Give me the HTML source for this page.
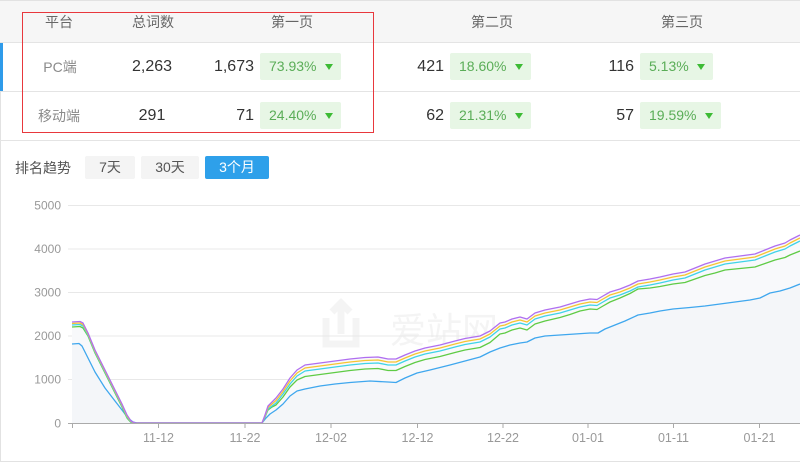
<!DOCTYPE html>
<html>
<head>
<meta charset="utf-8">
<style>
  html,body{margin:0;padding:0;background:#fff;}
  body{width:800px;height:462px;overflow:hidden;position:relative;font-family:"Liberation Sans","Noto Sans CJK SC",sans-serif;}
  .abs{position:absolute;}
  .hdr{position:absolute;left:0;top:0;width:800px;height:42px;background:#f6f6f6;border-top:1px solid #e2e2e2;box-sizing:border-box;}
  .line{position:absolute;left:0;width:800px;height:1px;background:#e4e4e4;}
  .ht{position:absolute;top:12px;font-size:14px;color:#666;line-height:20px;text-align:center;width:80px;}
  .lab{position:absolute;font-size:14px;color:#8a8a8a;line-height:20px;text-align:center;width:80px;}
  .num{position:absolute;font-size:16px;color:#333;line-height:20px;text-align:right;width:60px;}
  .numc{position:absolute;font-size:16px;color:#333;line-height:20px;text-align:center;width:60px;}
  .badge{position:absolute;height:27px;background:#e7f6e5;border-radius:2px;font-size:14px;color:#5aad57;line-height:27px;padding-left:9px;box-sizing:border-box;}
  .tri{position:absolute;top:11px;width:0;height:0;border-left:4px solid transparent;border-right:4px solid transparent;border-top:6px solid #3dbb35;}
  .btn{position:absolute;top:156px;height:23px;line-height:23px;font-size:14px;text-align:center;background:#f4f4f4;color:#555;border-radius:2px;}
</style>
</head>
<body>
<div class="abs" style="left:0;top:0;width:1px;height:462px;background:#e2e2e2;"></div>
<div class="abs" style="left:0;top:461px;width:800px;height:1px;background:#e2e2e2;"></div>

<div class="hdr"></div>
<div class="line" style="top:42px;"></div>
<div class="line" style="top:91px;"></div>
<div class="line" style="top:140px;"></div>
<div class="abs" style="left:0;top:43px;width:3px;height:48px;background:#2f9bea;"></div>

<div class="ht" style="left:19px;">平台</div>
<div class="ht" style="left:113px;">总词数</div>
<div class="ht" style="left:252px;">第一页</div>
<div class="ht" style="left:452px;">第二页</div>
<div class="ht" style="left:642px;">第三页</div>

<div class="lab" style="left:20px;top:57px;">PC端</div>
<div class="numc" style="left:122px;top:57px;">2,263</div>
<div class="num" style="left:194px;top:57px;">1,673</div>
<div class="badge" style="left:260px;top:53px;width:81px;">73.93%<span class="tri" style="left:65px;"></span></div>
<div class="num" style="left:384px;top:57px;">421</div>
<div class="badge" style="left:450px;top:53px;width:81px;">18.60%<span class="tri" style="left:65px;"></span></div>
<div class="num" style="left:574px;top:57px;">116</div>
<div class="badge" style="left:640px;top:53px;width:73px;">5.13%<span class="tri" style="left:57px;"></span></div>

<div class="lab" style="left:19px;top:106px;">移动端</div>
<div class="numc" style="left:122px;top:106px;">291</div>
<div class="num" style="left:194px;top:106px;">71</div>
<div class="badge" style="left:260px;top:102px;width:81px;">24.40%<span class="tri" style="left:65px;"></span></div>
<div class="num" style="left:384px;top:106px;">62</div>
<div class="badge" style="left:450px;top:102px;width:81px;">21.31%<span class="tri" style="left:65px;"></span></div>
<div class="num" style="left:574px;top:106px;">57</div>
<div class="badge" style="left:640px;top:102px;width:81px;">19.59%<span class="tri" style="left:65px;"></span></div>

<div class="abs" style="left:22px;top:12px;width:352px;height:121px;border:1px solid #e8383d;box-sizing:border-box;"></div>

<div class="abs" style="left:15px;top:158px;font-size:14px;color:#555;line-height:20px;">排名趋势</div>
<div class="btn" style="left:85px;width:50px;">7天</div>
<div class="btn" style="left:141px;width:58px;">30天</div>
<div class="btn" style="left:205px;width:64px;background:#2ea0ea;color:#fff;">3个月</div>

<svg class="abs" style="left:0;top:0;" width="800" height="462" viewBox="0 0 800 462">
  <g>
    <path d="M326 318 L326 344 L356 344 L356 318 M341 303 L341 334 M332 312 L341 303 L350 312" fill="none" stroke="#f4f4f4" stroke-width="7"/>
    <text x="390" y="343" font-size="36" fill="#f4f4f4" font-family="Liberation Sans, Noto Sans CJK SC, sans-serif">爱站网</text>
  </g>
  <g stroke="#e8e8e8" stroke-width="1">
    <line x1="68" y1="205.5" x2="800" y2="205.5"/>
    <line x1="68" y1="249" x2="800" y2="249"/>
    <line x1="68" y1="292.5" x2="800" y2="292.5"/>
    <line x1="68" y1="336" x2="800" y2="336"/>
    <line x1="68" y1="379.5" x2="800" y2="379.5"/>
  </g>
  <g font-size="12" fill="#999" text-anchor="end" font-family="Liberation Sans, sans-serif">
    <text x="61" y="209.5">5000</text>
    <text x="61" y="253">4000</text>
    <text x="61" y="296.5">3000</text>
    <text x="61" y="340">2000</text>
    <text x="61" y="383.5">1000</text>
    <text x="61" y="427.5">0</text>
  </g>
  <polygon fill="#f8f9fb" points="72,423 72,322 80,321.5 83,323 88,333 95,350 105,370 115,390 122,404 127,415 131,421 135,423 262,423 265,415 268,406 272,402 276,398 283,389 290,378 297,370 305,365 320,363 335,361 350,359 365,357.5 378,357 388,359 396,359 405,355 415,351 425,348 440,345 455,341 465,338.5 480,336 490,331 500,323 505,322 512,319 520,317 527,319 535,313 545,310 560,307 570,304 580,301 590,299 597,299.5 603,296 610,292 620,289 630,285 638,281 650,279 660,277 673,274 685,272 695,268 705,264 715,261 725,258 740,256 755,254 765,250 775,246 785,243 790,240 800,235 800,423"/>
  <polygon fill="#f4f6f9" points="72,423 72,344 79,343.5 82,346 88,358 95,372 105,388 115,401 122,410 128,418 133,422 137,423 262,423 266,418 270,414 276,410 283,404 290,396 297,391 305,389 320,386 335,384 350,382.5 370,381 388,382 396,382.5 405,378 417,373 430,370 450,365 465,361 480,357 490,352 500,348 510,345 520,343 527,342 535,338 545,336 560,335 575,334 590,333 598,333 605,329 615,325 625,321 638,315 650,313 660,311 673,309 690,307.5 705,306 720,304 735,302 750,300 760,298 770,293 780,291 790,288 800,284 800,423"/>
  <g fill="none" stroke-width="1.3" stroke-linejoin="round">
    <polyline stroke="#3fa7ee" points="72,344 79,343.5 82,346 88,358 95,372 105,388 115,401 122,410 128,418 133,422 137,423 262,423 266,418 270,414 276,410 283,404 290,396 297,391 305,389 320,386 335,384 350,382.5 370,381 388,382 396,382.5 405,378 417,373 430,370 450,365 465,361 480,357 490,352 500,348 510,345 520,343 527,342 535,338 545,336 560,335 575,334 590,333 598,333 605,329 615,325 625,321 638,315 650,313 660,311 673,309 690,307.5 705,306 720,304 735,302 750,300 760,298 770,293 780,291 790,288 800,284"/>
    <polyline stroke="#5fcb45" points="72,327 80,326.5 83,328 88,336 95,353 105,373 115,393 122,407 127,418 131,422.5 135,423 262,423 265,417 268,410 272,407 276,405 283,397 290,387 297,380 305,376.5 320,374.5 335,372.5 350,370.5 365,369 378,368.5 388,370.5 396,370.5 405,366.5 415,362.5 425,359.5 440,356.5 455,352.5 465,350 480,347.5 490,342.5 500,334 505,333 512,330 520,328 527,330 535,324 545,321 560,317.5 570,314.5 580,311 590,309 597,309.5 603,306 610,302 620,298 630,293.5 638,289 650,288 660,286.5 673,284 685,282.5 695,279 705,275.5 715,273 725,270 740,268.5 755,267 765,263.5 775,260 785,257.5 790,255 800,251"/>
    <polyline stroke="#3fd3e8" points="72,325 80,324.5 83,326 88,335 95,352 105,372 115,392 122,406 127,417 131,422 135,423 262,423 265,417 268,409 272,406 276,403 283,394 290,384 297,376 305,371 320,369 335,367 350,365 365,363.5 378,363 388,365 396,365 405,361 415,357 425,354 440,351 455,347 465,344.5 480,342 490,337 500,329 505,328 512,325 520,323 527,325 535,319 545,316 560,313 570,310 580,307 590,305 597,305.5 603,302 610,298 620,295 630,291 638,287 650,285 660,283 673,280 685,278 695,274 705,270 715,267 725,264 740,262 755,260 765,256 775,252 785,249 790,246 800,241"/>
    <polyline stroke="#f7c531" points="72,323.5 80,323 83,324.5 88,334 95,351 105,371 115,391 122,405 127,416 131,421.5 135,423 262,423 265,416 268,407.5 272,404 276,400.5 283,391.5 290,381 297,373 305,368 320,366 335,364 350,362 365,360.5 378,360 388,362 396,362 405,358 415,354 425,351 440,348 455,344 465,341.5 480,339 490,334 500,326 505,325 512,322 520,320 527,322 535,316 545,313 560,310 570,307 580,304 590,302 597,302.5 603,299 610,295 620,292 630,288 638,284 650,282 660,280 673,277 685,275 695,271 705,267 715,264 725,261 740,259 755,257 765,253 775,249 785,246 790,243 800,238"/>
    <polyline stroke="#b06ef0" points="72,322 80,321.5 83,323 88,333 95,350 105,370 115,390 122,404 127,415 131,421 135,423 262,423 265,415 268,406 272,402 276,398 283,389 290,378 297,370 305,365 320,363 335,361 350,359 365,357.5 378,357 388,359 396,359 405,355 415,351 425,348 440,345 455,341 465,338.5 480,336 490,331 500,323 505,322 512,319 520,317 527,319 535,313 545,310 560,307 570,304 580,301 590,299 597,299.5 603,296 610,292 620,289 630,285 638,281 650,279 660,277 673,274 685,272 695,268 705,264 715,261 725,258 740,256 755,254 765,250 775,246 785,243 790,240 800,235"/>
  </g>
  <line x1="68" y1="423.5" x2="800" y2="423.5" stroke="#aaa" stroke-width="1"/>
  <g stroke="#aaa" stroke-width="1">
    <line x1="72.5" y1="423" x2="72.5" y2="428"/>
    <line x1="158.5" y1="423" x2="158.5" y2="428"/>
    <line x1="245" y1="423" x2="245" y2="428"/>
    <line x1="331" y1="423" x2="331" y2="428"/>
    <line x1="417.5" y1="423" x2="417.5" y2="428"/>
    <line x1="503" y1="423" x2="503" y2="428"/>
    <line x1="588" y1="423" x2="588" y2="428"/>
    <line x1="673.5" y1="423" x2="673.5" y2="428"/>
    <line x1="759.5" y1="423" x2="759.5" y2="428"/>
  </g>
  <g font-size="12.5" fill="#999" text-anchor="middle" font-family="Liberation Sans, sans-serif">
    <text x="158.5" y="442">11-12</text>
    <text x="245" y="442">11-22</text>
    <text x="331" y="442">12-02</text>
    <text x="417.5" y="442">12-12</text>
    <text x="503" y="442">12-22</text>
    <text x="588" y="442">01-01</text>
    <text x="673.5" y="442">01-11</text>
    <text x="759.5" y="442">01-21</text>
  </g>
</svg>
</body>
</html>
